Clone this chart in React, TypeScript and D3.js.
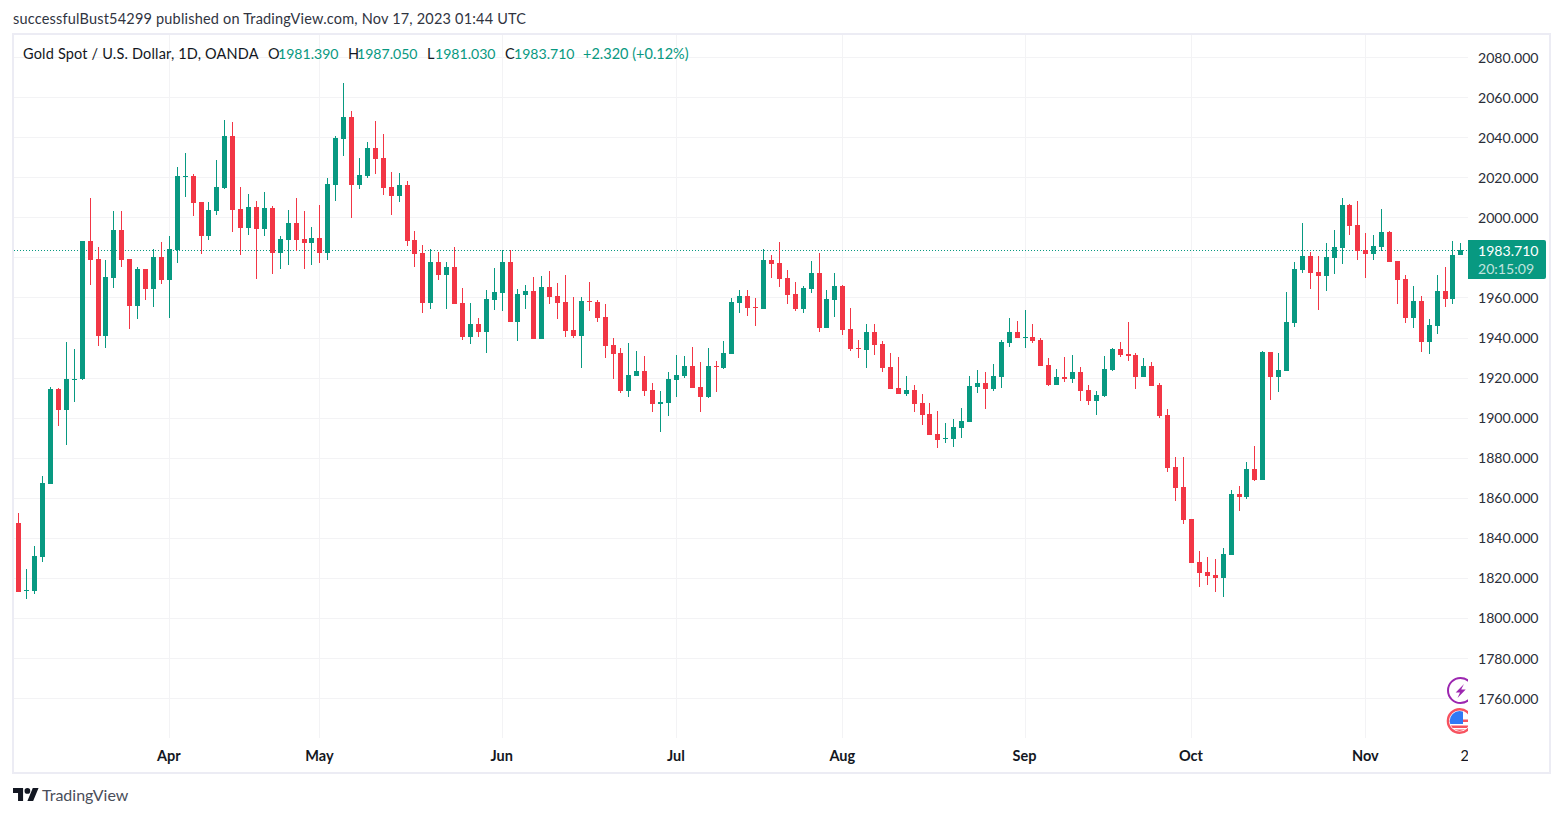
import React, { useEffect, useRef } from 'react'
import * as d3 from 'd3'

const opens = [
  1847.2, 1814.0, 1813.7, 1830.7, 1866.7, 1914.2, 1903.7, 1918.8, 1919.2, 1988.2,
  1979.2, 1940.8, 1969.7, 1993.7, 1979.2, 1955.7, 1974.2, 1964.2, 1980.2, 1968.7,
  1983.7, 2020.2, 2020.7, 2007.7, 1990.7, 2003.2, 2014.7, 2040.7, 2004.2, 1994.7,
  2005.2, 1994.2, 2004.7, 1982.2, 1988.7, 1997.2, 1989.2, 1987.2, 1989.7, 1982.2,
  2016.2, 2039.2, 2050.2, 2016.2, 2020.7, 2034.7, 2029.7, 2015.2, 2010.7, 2016.2,
  1988.7, 1982.2, 1957.2, 1977.7, 1971.2, 1975.2, 1957.2, 1940.2, 1946.7, 1942.7,
  1958.7, 1962.2, 1977.7, 1947.7, 1961.2, 1963.2, 1939.2, 1965.2, 1960.7, 1957.7,
  1943.7, 1940.7, 1958.2, 1957.7, 1950.2, 1936.2, 1932.2, 1913.2, 1920.7, 1923.2,
  1913.7, 1906.7, 1907.2, 1918.7, 1920.7, 1925.7, 1915.2, 1910.2, 1925.7, 1924.7,
  1931.7, 1957.2, 1960.7, 1955.2, 1954.2, 1978.7, 1977.2, 1969.7, 1961.7, 1954.2,
  1964.2, 1972.2, 1944.7, 1958.7, 1965.7, 1944.2, 1934.7, 1933.7, 1942.7, 1936.7,
  1925.2, 1914.7, 1911.7, 1913.7, 1907.2, 1901.7, 1891.7, 1889.2, 1889.2, 1894.7,
  1897.7, 1915.2, 1917.2, 1914.2, 1920.2, 1937.2, 1942.7, 1939.7, 1940.2, 1938.7,
  1926.2, 1916.2, 1920.2, 1919.2, 1922.7, 1913.7, 1908.2, 1910.7, 1923.7, 1934.2,
  1931.7, 1931.2, 1920.2, 1925.7, 1916.2, 1901.2, 1875.2, 1865.2, 1849.2, 1828.2,
  1823.2, 1821.7, 1820.2, 1831.7, 1861.7, 1860.2, 1874.2, 1868.7, 1932.7, 1920.2,
  1923.2, 1947.2, 1973.7, 1980.7, 1972.7, 1970.7, 1979.7, 1984.7, 2006.2, 1996.2,
  1983.7, 1981.7, 1985.2, 1992.7, 1978.2, 1969.2, 1949.7, 1958.2, 1937.7, 1945.7,
  1963.2, 1959.2, 1981.39,
]

const highs = [
  1852.2, 1824.7, 1836.2, 1870.7, 1915.2, 1914.7, 1937.7, 1934.2, 1988.2, 2009.7,
  1985.2, 1978.7, 2003.2, 2003.2, 1979.2, 1975.2, 1974.2, 1984.2, 1987.7, 1990.7,
  2025.2, 2032.2, 2021.7, 2007.7, 2007.7, 2028.7, 2048.7, 2047.7, 2015.2, 2011.7,
  2008.2, 2012.7, 2005.7, 1990.7, 2003.7, 2009.7, 2003.2, 1995.2, 2006.2, 2019.7,
  2040.7, 2067.2, 2053.2, 2029.7, 2037.7, 2048.2, 2041.7, 2022.7, 2022.2, 2018.2,
  1993.2, 1986.2, 1984.2, 1982.7, 1977.7, 1985.2, 1964.7, 1957.2, 1949.7, 1963.7,
  1974.7, 1983.7, 1983.7, 1964.2, 1966.2, 1970.2, 1970.7, 1973.2, 1967.2, 1971.2,
  1960.2, 1960.2, 1967.7, 1958.7, 1956.7, 1939.7, 1934.7, 1937.2, 1933.2, 1930.7,
  1917.2, 1913.2, 1922.7, 1931.2, 1930.7, 1935.2, 1927.7, 1934.7, 1928.2, 1938.2,
  1959.7, 1963.7, 1963.7, 1959.7, 1984.2, 1981.2, 1987.7, 1973.7, 1967.7, 1965.7,
  1978.2, 1982.2, 1963.7, 1972.2, 1966.2, 1954.7, 1938.7, 1946.7, 1946.7, 1938.2,
  1932.2, 1930.2, 1920.7, 1916.2, 1911.7, 1907.2, 1903.2, 1897.2, 1899.2, 1904.7,
  1920.7, 1923.7, 1922.7, 1926.7, 1938.7, 1949.7, 1948.2, 1953.7, 1946.7, 1939.7,
  1929.7, 1924.2, 1930.2, 1931.2, 1925.2, 1916.2, 1913.2, 1930.7, 1934.7, 1937.7,
  1947.7, 1932.2, 1929.7, 1927.7, 1917.2, 1904.2, 1880.2, 1880.2, 1849.2, 1833.7,
  1830.7, 1829.7, 1835.2, 1863.7, 1865.7, 1877.7, 1885.7, 1933.2, 1932.7, 1932.2,
  1962.7, 1977.7, 1997.2, 1982.7, 1980.7, 1987.2, 1993.7, 2009.7, 2006.7, 2008.2,
  1992.2, 1991.2, 2004.2, 1993.2, 1978.2, 1971.2, 1965.7, 1960.7, 1949.2, 1971.2,
  1975.2, 1988.2, 1987.05,
]

const lows = [
  1813.2, 1809.7, 1812.2, 1828.2, 1866.7, 1895.7, 1886.2, 1907.7, 1918.7, 1966.2,
  1935.8, 1934.7, 1964.7, 1975.2, 1944.2, 1949.2, 1958.7, 1955.2, 1966.7, 1949.7,
  1977.2, 2010.2, 2000.7, 1981.7, 1988.7, 2001.2, 2014.2, 1992.7, 1981.2, 1991.2,
  1969.2, 1990.7, 1971.7, 1974.2, 1976.2, 1983.2, 1974.2, 1976.2, 1977.2, 1978.7,
  2008.2, 2030.7, 1999.7, 2014.2, 2019.7, 2021.7, 2011.2, 2001.2, 2007.7, 1985.7,
  1975.2, 1952.2, 1954.2, 1968.7, 1954.2, 1956.7, 1938.7, 1936.7, 1940.2, 1932.2,
  1953.7, 1953.2, 1947.7, 1938.2, 1954.2, 1939.2, 1939.2, 1956.7, 1949.2, 1940.2,
  1939.7, 1924.7, 1953.2, 1947.7, 1929.7, 1919.2, 1912.2, 1910.2, 1920.7, 1910.7,
  1902.7, 1892.7, 1900.7, 1910.2, 1919.7, 1914.7, 1902.7, 1909.7, 1912.7, 1924.2,
  1931.7, 1952.2, 1950.7, 1945.7, 1954.2, 1969.7, 1965.2, 1956.7, 1953.2, 1952.2,
  1962.2, 1942.7, 1944.7, 1950.2, 1941.2, 1933.2, 1929.7, 1924.7, 1931.2, 1922.7,
  1914.2, 1911.7, 1910.7, 1902.7, 1896.2, 1891.2, 1884.7, 1887.2, 1885.2, 1889.7,
  1897.7, 1912.2, 1904.2, 1913.2, 1914.7, 1935.2, 1939.7, 1934.7, 1937.2, 1925.7,
  1915.7, 1916.2, 1917.7, 1917.2, 1908.2, 1906.2, 1901.2, 1910.2, 1923.2, 1930.2,
  1928.2, 1914.2, 1920.2, 1915.7, 1899.7, 1872.7, 1858.2, 1846.7, 1827.7, 1815.7,
  1816.7, 1813.2, 1810.7, 1831.7, 1853.2, 1859.2, 1868.2, 1868.7, 1908.7, 1912.7,
  1923.2, 1945.2, 1972.2, 1964.2, 1953.7, 1963.2, 1971.7, 1976.7, 1991.2, 1978.7,
  1969.7, 1978.7, 1983.2, 1977.7, 1956.7, 1947.2, 1944.7, 1932.7, 1931.7, 1941.7,
  1955.2, 1956.7, 1981.03,
]

const closes = [
  1813.2, 1814.2, 1831.2, 1867.2, 1914.2, 1903.7, 1919.2, 1919.5, 1988.2, 1978.7,
  1940.8, 1970.2, 1993.7, 1978.7, 1955.7, 1974.2, 1964.2, 1980.2, 1968.7, 1984.2,
  2020.7, 2020.7, 2007.2, 1990.7, 2003.7, 2015.2, 2040.7, 2003.7, 1994.7, 2005.2,
  1994.2, 2004.7, 1982.2, 1989.2, 1997.2, 1988.7, 1987.2, 1989.7, 1982.2, 2016.7,
  2039.7, 2050.2, 2016.2, 2021.2, 2034.7, 2029.2, 2014.7, 2010.7, 2016.2, 1988.2,
  1981.7, 1957.2, 1977.7, 1971.2, 1975.2, 1956.7, 1940.2, 1946.7, 1942.7, 1959.2,
  1962.7, 1977.7, 1947.7, 1961.7, 1963.2, 1939.2, 1965.2, 1960.2, 1957.2, 1943.2,
  1940.7, 1958.2, 1957.7, 1949.7, 1935.7, 1931.7, 1913.2, 1921.2, 1923.2, 1913.2,
  1906.7, 1907.7, 1919.2, 1921.2, 1925.7, 1914.7, 1910.2, 1925.7, 1925.2, 1932.2,
  1957.7, 1960.7, 1954.7, 1954.7, 1978.7, 1976.7, 1969.2, 1961.2, 1954.2, 1964.7,
  1972.2, 1944.7, 1959.2, 1965.7, 1943.7, 1934.2, 1934.2, 1942.7, 1936.2, 1924.7,
  1914.2, 1911.7, 1913.7, 1906.7, 1901.2, 1891.2, 1888.7, 1889.7, 1895.2, 1898.2,
  1915.7, 1917.2, 1914.2, 1920.7, 1937.7, 1942.7, 1939.7, 1940.2, 1938.2, 1925.7,
  1916.2, 1920.2, 1919.2, 1922.7, 1913.2, 1908.2, 1911.2, 1924.2, 1934.2, 1931.2,
  1930.7, 1920.2, 1925.7, 1915.7, 1900.7, 1874.7, 1864.7, 1848.7, 1827.7, 1822.7,
  1821.2, 1820.2, 1832.2, 1861.7, 1860.2, 1874.2, 1868.7, 1932.7, 1920.2, 1923.7,
  1947.7, 1974.2, 1980.7, 1972.2, 1970.7, 1980.2, 1985.2, 2006.2, 1995.7, 1983.2,
  1981.7, 1985.7, 1992.7, 1977.7, 1968.7, 1949.7, 1958.2, 1937.7, 1946.2, 1963.2,
  1959.2, 1981.2, 1983.71,
]

const priceTicks = [2080, 2060, 2040, 2020, 2000, 1980, 1960, 1940, 1920, 1900, 1880, 1860, 1840, 1820, 1800, 1780, 1760]
const monthTicks = [19, 38, 61, 83, 104, 127, 148, 170]
const monthLabels = ['Apr', 'May', 'Jun', 'Jul', 'Aug', 'Sep', 'Oct', 'Nov']

const lastPrice = 1983.71
const countdown = '20:15:09'
const publishedLine = 'successfulBust54299 published on TradingView.com, Nov 17, 2023 01:44 UTC'
const symbolTitle = 'Gold Spot / U.S. Dollar, 1D, OANDA'

const UP = '#089981'
const DOWN = '#F23645'
const GRID = '#F3F3F5'
const FRAME = '#ECECF4'
const INK = '#131722'
const FONT = "Lato, 'Open Sans', sans-serif"

const App: React.FC = () => {
  const chartRef = useRef<SVGSVGElement | null>(null)

  useEffect(() => {
    if (!chartRef.current) return
    const svg = d3.select(chartRef.current)
    svg.selectAll('*').remove()

    const paneRight = 1468

    // spacing and offset worked out from where the candles land on whole pixels
    const x = d3.scaleLinear().domain([0, 182]).range([18.785, 1460.86])
    const y = d3.scaleLinear().domain([1760, 2080]).range([698.56, 57.6])
    const px = (i: number) => Math.floor(x(i))
    const py = (v: number) => Math.round(y(v) - 0.4)

    const defs = svg.append('defs')
    defs.append('clipPath').attr('id', 'pane').append('rect')
      .attr('x', 14).attr('y', 35).attr('width', paneRight - 14).attr('height', 737)

    // frame
    svg.append('rect')
      .attr('x', 13).attr('y', 34).attr('width', 1537).attr('height', 739)
      .attr('fill', 'white').attr('stroke', FRAME).attr('stroke-width', 2)

    // grid
    svg.append('g').selectAll('rect').data(priceTicks).enter().append('rect')
      .attr('x', 14).attr('y', d => Math.floor(y(d)))
      .attr('width', paneRight - 14).attr('height', 1).attr('fill', GRID)
    svg.append('g').selectAll('rect').data(monthTicks).enter().append('rect')
      .attr('x', d => px(d)).attr('y', 35)
      .attr('width', 1).attr('height', 703).attr('fill', GRID)

    // last price line
    svg.append('line')
      .attr('x1', 14).attr('x2', paneRight)
      .attr('y1', 250.5).attr('y2', 250.5)
      .attr('stroke', UP).attr('stroke-width', 1).attr('stroke-dasharray', '1 2')

    // candles
    const candles = svg.append('g').selectAll('g')
      .data(opens.map((o, i) => ({ i, o, h: highs[i], l: lows[i], c: closes[i] })))
      .enter().append('g')
      .attr('fill', d => (d.c >= d.o ? UP : DOWN))

    candles.append('rect')
      .attr('x', d => px(d.i))
      .attr('y', d => py(d.h))
      .attr('width', 1)
      .attr('height', d => Math.max(1, py(d.l) - py(d.h)))

    candles.append('rect')
      .attr('x', d => px(d.i) - 2)
      .attr('y', d => py(Math.max(d.o, d.c)))
      .attr('width', 5)
      .attr('height', d => Math.max(1, py(Math.min(d.o, d.c)) - py(Math.max(d.o, d.c))))

    // price axis
    const priceAxis = svg.append('g')
      .attr('transform', `translate(${paneRight},0)`)
      .call(
        d3.axisRight(y).tickValues(priceTicks).tickSize(0).tickPadding(10)
          .tickFormat(d => d3.format('.3f')(d as number))
      )
    priceAxis.select('.domain').remove()
    priceAxis.selectAll('text')
      .attr('font-family', FONT).attr('font-size', 14.1).attr('fill', '#2a2e39')

    // time axis
    const timeAxis = svg.append('g')
      .attr('transform', 'translate(-1,743)')
      .call(
        d3.axisBottom(x).tickValues(monthTicks).tickSize(0).tickPadding(8)
          .tickFormat((d, i) => monthLabels[i])
      )
    timeAxis.select('.domain').remove()
    timeAxis.selectAll('text')
      .attr('font-family', FONT).attr('font-size', 14.5).attr('font-weight', 700).attr('fill', INK)

    const pane = svg.append('g').attr('clip-path', 'url(#pane)')
    pane.append('text')
      .attr('x', 1460.5).attr('y', 761)
      .attr('font-family', FONT).attr('font-size', 14.5).attr('fill', INK)
      .text('2')

    // event icons, cut by the edge of the pane
    pane.append('circle')
      .attr('cx', 1460.5).attr('cy', 690.5).attr('r', 12.5)
      .attr('fill', 'white').attr('stroke', '#9C27B0').attr('stroke-width', 2)
    pane.append('path')
      .attr('d', 'M1464 684 L1455.7 692.5 L1460 692.5 L1457.5 698 L1465.7 689.5 L1461.2 689.5 Z')
      .attr('fill', '#9C27B0')

    pane.append('circle')
      .attr('cx', 1459.7).attr('cy', 721).attr('r', 11.8)
      .attr('fill', 'white').attr('stroke', '#F7525F').attr('stroke-width', 2.4)
    defs.append('clipPath').attr('id', 'flag').append('circle')
      .attr('cx', 1459.7).attr('cy', 721).attr('r', 10)
    const flag = pane.append('g').attr('clip-path', 'url(#flag)')
    flag.append('rect').attr('x', 1449).attr('y', 711).attr('width', 22).attr('height', 21).attr('fill', 'white')
    flag.selectAll('.stripe').data([719.5, 725.5, 729.5]).enter().append('rect')
      .attr('class', 'stripe')
      .attr('x', 1449).attr('y', d => d).attr('width', 22).attr('height', 2.5).attr('fill', '#F7525F')
    flag.append('rect').attr('x', 1449).attr('y', 711).attr('width', 14).attr('height', 13).attr('fill', '#3179F5')

    // last price tag
    svg.append('path')
      .attr('d', 'M1468 240 H1544 Q1546 240 1546 242 V277 Q1546 279 1544 279 H1468 Z')
      .attr('fill', UP)
    svg.append('text')
      .attr('x', 1478).attr('y', 255.5)
      .attr('font-family', FONT).attr('font-size', 14.1).attr('fill', 'white')
      .text(d3.format('.3f')(lastPrice))
    svg.append('text')
      .attr('x', 1478).attr('y', 273.5)
      .attr('font-family', FONT).attr('font-size', 14.1).attr('fill', 'white').attr('fill-opacity', 0.75)
      .text(countdown)

    // header
    svg.append('text')
      .attr('x', 13).attr('y', 24)
      .attr('font-family', FONT).attr('font-size', 14.5).attr('letter-spacing', 0.19).attr('fill', '#30343f')
      .text(publishedLine)

    // legend
    const legend = svg.append('g')
      .attr('font-family', FONT).attr('font-size', 14.5)
    const legendBits: [number, string, string, number, number][] = [
      [23, symbolTitle, INK, 14.5, 0.18],
      [268, 'O', INK, 14.5, 0],
      [278, '1981.390', UP, 14.1, 0],
      [348, 'H', INK, 14.5, 0],
      [357, '1987.050', UP, 14.1, 0],
      [427, 'L', INK, 14.5, 0],
      [435, '1981.030', UP, 14.1, 0],
      [505, 'C', INK, 14.5, 0],
      [514, '1983.710', UP, 14.1, 0],
      [583, '+2.320 (+0.12%)', UP, 14.5, 0],
    ]
    legend.selectAll('text').data(legendBits).enter().append('text')
      .attr('x', d => d[0]).attr('y', 59)
      .attr('fill', d => d[2])
      .attr('font-size', d => d[3])
      .attr('letter-spacing', d => d[4])
      .text(d => d[1])

    // logo
    const logo = svg.append('g').attr('transform', 'translate(13,785.2) scale(0.72)').attr('fill', '#131722')
    logo.append('path').attr('d', 'M14 22H7V11H0V4h14v18zM28 22h-8l7.5-18h8L28 22z')
    logo.append('circle').attr('cx', 20).attr('cy', 8).attr('r', 4)
    svg.append('text')
      .attr('x', 42).attr('y', 801)
      .attr('font-family', FONT).attr('font-size', 16).attr('fill', '#4a4e5a')
      .text('TradingView')
  }, [])

  return (
    <svg
      ref={chartRef}
      width={1563}
      height={817}
      style={{ position: 'absolute', left: 0, top: 0, display: 'block', background: 'white' }}
    />
  )
}

export default App
